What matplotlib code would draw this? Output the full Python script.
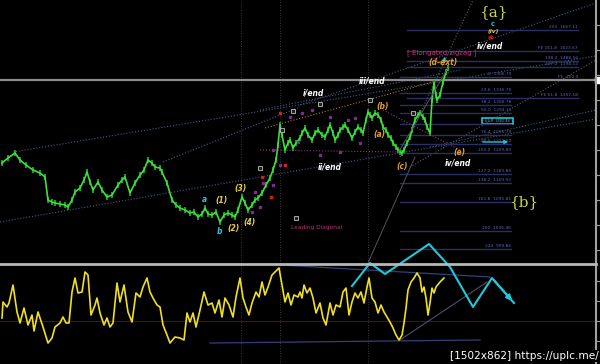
import matplotlib.pyplot as plt
from matplotlib.patches import Rectangle

# price path (bar index, close)
bar_x = [2, 8, 15, 20, 26, 33, 40, 45, 48, 52, 55, 60, 65, 68, 72, 75, 80, 84, 87, 90,
         93, 98, 102, 107, 112, 118, 122, 125, 130, 135, 140, 144, 148, 152, 155, 160, 162, 167, 172, 176,
         180, 185, 190, 194, 198, 202, 205, 208, 212, 216, 220, 224, 228, 232, 235, 238, 242, 245, 248, 252,
         255, 258, 262, 266, 270, 273, 276, 278, 280, 282, 285, 288, 290, 293, 296, 300, 302, 305, 308, 312,
         315, 318, 322, 325, 328, 330, 333, 335, 338, 340, 343, 345, 348, 352, 355, 358, 361, 363, 366, 368,
         370, 372, 375, 378, 381, 383, 386, 388, 391, 393, 396, 398, 400, 402, 404, 407, 410, 412, 415, 418,
         420, 423, 425, 427, 430, 432, 434, 436, 437, 440, 443, 446, 448]
close = [1237, 1242, 1247, 1240, 1235, 1230, 1227, 1223, 1200, 1198, 1197, 1196, 1195, 1193, 1200, 1208, 1212, 1220, 1228, 1218,
         1210, 1218, 1210, 1203, 1205, 1215, 1220, 1223, 1207, 1217, 1225, 1230, 1240, 1237, 1233, 1232, 1228, 1217, 1200, 1195,
         1192, 1190, 1187, 1188, 1183, 1186, 1192, 1186, 1185, 1188, 1178, 1185, 1187, 1185, 1183, 1190, 1203, 1197, 1190, 1195,
         1200, 1202, 1207, 1215, 1222, 1230, 1240, 1255, 1275, 1265, 1250, 1257, 1260, 1252, 1257, 1262, 1267, 1272, 1265, 1260,
         1267, 1270, 1265, 1263, 1270, 1275, 1267, 1260, 1265, 1270, 1273, 1275, 1270, 1262, 1268, 1273, 1270, 1267, 1280, 1288,
         1285, 1282, 1287, 1285, 1280, 1273, 1270, 1265, 1262, 1257, 1253, 1250, 1248, 1247, 1250, 1257, 1263, 1270, 1280, 1285,
         1287, 1283, 1280, 1273, 1267, 1300, 1317, 1305, 1300, 1305, 1318, 1328, 1332]

# oscillator
osc_x = [2, 3, 7, 9, 13, 17, 20, 24, 28, 32, 34, 38, 43, 48, 52, 55, 60, 63, 66, 69,
         72, 75, 78, 82, 85, 88, 91, 95, 97, 100, 104, 107, 110, 113, 117, 120, 124, 128, 132, 136,
         140, 143, 147, 150, 153, 157, 160, 163, 167, 170, 175, 180, 184, 187, 190, 193, 196, 200, 204, 208,
         212, 215, 219, 222, 225, 229, 233, 236, 240, 243, 246, 249, 252, 256, 259, 262, 265, 268, 272, 276,
         279, 282, 285, 288, 291, 294, 298, 300, 302, 304, 307, 310, 313, 316, 320, 323, 326, 330, 333, 336,
         340, 343, 346, 349, 352, 355, 358, 361, 364, 367, 369, 372, 375, 378, 381, 384, 387, 390, 393, 396,
         399, 402, 404, 406, 408, 411, 414, 417, 420, 422, 424, 426, 428, 430, 432, 434, 436, 440, 444]
osc = [3, 19, 14, 18, 36, 9, -2, 13, -4, 6, -10, 9, -6, -22, -17, -6, -2, 4, -2, -2,
       29, 43, 28, 29, 49, 46, 6, 16, 23, 8, -4, 3, -6, -2, 38, 19, 36, 9, -1, 28,
       24, 34, 43, 29, 23, 16, 14, -4, -14, -22, -16, -17, -19, 8, -1, 8, -6, 11, 29, 16,
       18, 8, 21, 4, 23, 16, 4, 24, 43, 23, 14, 6, 18, 29, 24, 39, 26, 34, 46, 50,
       53, 36, 19, 28, 16, 26, 24, 29, 23, 36, 28, 33, 23, 8, 18, 3, -4, 18, 6, 16,
       14, 29, 33, 6, 19, 28, 23, 29, 18, 34, 43, 23, 19, 8, 16, 9, 4, -1, -7, -14,
       -19, -14, -2, 13, 31, 39, 43, 48, 43, 29, 34, 23, 6, 18, 33, 28, 34, 39, 43]

# projected path (cyan)
proj_x = [352, 370, 385, 429, 450, 473, 492, 514]
proj_y = [35, 58, 47, 77, 54, 14, 43, 18]

# fibonacci levels
fib_upper = [1370, 1349, 1339, 1333, 1320, 1302]
fib_upper_lbl = ['200  1667.11', 'FE 161.8  1623.67', '138.2  1488.56', '127.2  1398.12', 'FE  100.0', 'FE 61.8  1357.18']
fib_lower = [1323, 1307, 1295, 1287, 1276, 1265, 1256, 1247, 1226, 1217, 1198, 1169, 1151]
fib_lower_lbl = ['0  1306.79', '23.6  1336.79', '38.2  1300.78', '50.0  1294.11', '', '76.4  1235.79',
                 '88.6  1221.50', '100.0  1209.89', '127.2  1183.84', '138.2  1169.93', '161.8  1095.81',
                 '200  1036.46', '224  999.86']

# channel / trend lines: ((x0, y0), (x1, y1), color)
trend_lines = [
    ((13, 1248), (596, 1344), '#3d5f86'),
    ((0, 1178), (596, 1281), '#3d5f86'),
    ((163, 1238), (300, 1293), '#3d5f86'),
    ((300, 1295), (596, 1397), '#3d5f86'),
    ((260, 1290), (460, 1330), '#3d5f86'),
    ((265, 1272), (440, 1320), '#b07a2a'),
    ((260, 1250), (400, 1248), '#8a3a7a'),
    ((383, 1290), (460, 1250), '#8a3a7a'),
    ((400, 1243), (473, 1400), '#5a5a6a'),
    ((410, 1233), (596, 1340), '#5a5a6a'),
    ((430, 1253), (596, 1290), '#3d5f86'),
]

wave_txt = [
    ('i/end', 313, 1307, 'white'), ('iii/end', 372, 1319, 'white'), ('ii/end', 330, 1233, 'white'),
    ('iv/end', 458, 1237, 'white'),
    ('(b)', 383, 1293, '#e0a030'), ('(a)', 379, 1265, '#e0a030'), ('(c)', 402, 1233, '#e0a030'),
    ('(e)', 459, 1248, '#e0a030'), ('(d-ext)', 443, 1337, '#e0a030'),
    ('(1)', 222, 1200, '#e8d040'), ('(2)', 234, 1172, '#e8d040'), ('(3)', 241, 1211, '#e8d040'),
    ('(4)', 250, 1178, '#e8d040'),
    ('a', 204, 1200, '#22c8e0'), ('b', 220, 1168, '#22c8e0'),
]

mark_x = [252, 255, 260, 263, 273, 280, 273, 302, 320, 348, 330, 312, 290, 298, 340, 360, 355]
mark_y = [1188, 1208, 1193, 1217, 1215, 1235, 1250, 1287, 1245, 1280, 1283, 1290, 1283, 1258, 1248, 1257, 1282]
red_x = [262, 271, 280, 285]
red_y = [1223, 1203, 1287, 1235]
box_x = [260, 293, 282, 296, 320, 370, 413]
box_y = [1232, 1289, 1270, 1182, 1296, 1300, 1287]

fig = plt.figure(figsize=(6, 3.64), dpi=100, facecolor='black')
ax = fig.add_axes([0, 101 / 364, 596 / 600, 263 / 364], facecolor='black')
ax2 = fig.add_axes([0, 0, 596 / 600, 100 / 364], facecolor='black')

for a in (ax, ax2):
    a.set_xlim(0, 596)
    for s in ('left', 'top', 'bottom'):
        a.spines[s].set_visible(False)
    a.spines['right'].set_color('#a0a0a0')
    a.spines['right'].set_linewidth(1.5)
    a.yaxis.tick_right()
    a.tick_params(axis='y', colors='#a0a0a0', length=3, labelright=False)
    a.set_xticks([])
    for vx in (241, 280, 368):
        a.axvline(vx, color='#3c3c3c', lw=0.7, ls=':')

ax.set_ylim(1137, 1400)
ax.set_yticks(range(1150, 1400, 25))
ax2.set_ylim(-43, 57)
ax2.set_yticks([-20, 0, 20, 40])
ax2.spines['top'].set_visible(True)
ax2.spines['top'].set_color('#b8b8b8')
ax2.spines['top'].set_linewidth(2)

# trend lines
for (x0, y0), (x1, y1), c in trend_lines:
    ax.plot([x0, x1], [y0, y1], color=c, lw=0.8, ls=':')

# fib levels
for lvl, lbl in zip(fib_upper, fib_upper_lbl):
    ax.plot([407, 578], [lvl, lvl], color='#2b2f66', lw=1)
    ax.text(578, lvl + 1, lbl, color='#5a66b0', fontsize=3.2, ha='right', va='bottom')
for lvl, lbl in zip(fib_lower, fib_lower_lbl):
    ax.plot([400, 511], [lvl, lvl], color='#2b2f66', lw=1)
    ax.text(511, lvl + 1, lbl, color='#5a66b0', fontsize=3.2, ha='right', va='bottom')

# current price line
ax.axhline(1320, color='#8c8c8c', lw=1.6)
ax.plot([597.5], [1320], marker='s', color='white', ms=4, clip_on=False)

# price bars
ax.vlines(bar_x, [c - 3 for c in close], [c + 3 for c in close], color='#1fae1f', lw=1.3)
ax.plot(bar_x, close, color='#3ee03e', lw=1.2)
ax.plot([398, 448], [1247, 1332], color='#55555f', lw=0.7)
ax.plot([415, 368], [1243, 1137], color='#55555f', lw=0.7)

# markers
ax.plot(mark_x, mark_y, 's', color='#7e2a90', ms=2)
ax.plot(red_x, red_y, 's', color='#d02020', ms=1.8)
ax.plot(box_x, box_y, 's', mfc='#202020', mec='#c0c0c0', ms=2.6, mew=0.6)

# cyan box and arrows
ax.add_patch(Rectangle((482, 1276), 31, 6, fill=False, ec='#22c4d4', lw=1.2))
ax.text(497.5, 1279, '61.8  1282.44', color='#22c4d4', fontsize=2.5, ha='center', va='center')
ax.annotate('', xy=(511, 1258), xytext=(480, 1258),
            arrowprops=dict(arrowstyle='-|>', color='#22c4d4', lw=1, mutation_scale=5))
ax.annotate('', xy=(446, 1346), xytext=(443, 1336),
            arrowprops=dict(arrowstyle='-|>', color='#22c4d4', lw=1, mutation_scale=5))

for t, x, y, c in wave_txt:
    ax.text(x, y, t, color=c, fontsize=5.5, fontstyle='italic', fontweight='bold', ha='center', va='center')

# stacked labels under {a}
ax.text(493, 1388, '{a}', color='#c8d84a', fontsize=11, family='serif', ha='center', va='center')
ax.text(493, 1376, 'c', color='#22c8e0', fontsize=4.8, fontweight='bold', ha='center', va='center')
ax.text(493, 1369, '(iv)', color='#e8d040', fontsize=4.3, fontstyle='italic', fontweight='bold', ha='center', va='center')
ax.text(491, 1362.5, 'ab', color='#d02020', fontsize=3.5, fontweight='bold', ha='center', va='center')
ax.text(490, 1354, 'iv/end', color='white', fontsize=5.5, fontstyle='italic', fontweight='bold', ha='center', va='center')

ax.text(442, 1347, '[ Elongated zigzag ]', color='#c0307a', fontsize=5, ha='center', va='center')
ax.text(317, 1172, 'Leading Diagonal', color='#c0307a', fontsize=4.2, ha='center', va='center')
ax.text(524, 1198, '{b}', color='#c8d84a', fontsize=11, family='serif', ha='center', va='center')

# lower panel
ax2.axhline(0, color='#4a1212', lw=0.8)
ax2.plot([210, 480], [-22, -19], color='#34407a', lw=0.9)
ax2.plot([280, 490], [56, 44], color='#34407a', lw=0.9)
ax2.plot([400, 487], [-19, 39], color='#4a5070', lw=0.8)
ax2.plot(osc_x, osc, color='#f0e020', lw=1.2)
ax2.plot(proj_x, proj_y, color='#22c8d8', lw=1.5, clip_on=False)
ax2.annotate('', xy=(proj_x[-1], proj_y[-1]), xytext=(proj_x[-2], proj_y[-2]),
             arrowprops=dict(arrowstyle='-|>', color='#22c8d8', lw=1.5, mutation_scale=8))

fig.text(0.998, 0.008, '[1502x862] https://uplc.me/', color='white', fontsize=7.6,
         ha='right', va='bottom', bbox=dict(facecolor='black', edgecolor='none', pad=0.5))

fig.savefig('out.png', dpi=100, facecolor='black')
